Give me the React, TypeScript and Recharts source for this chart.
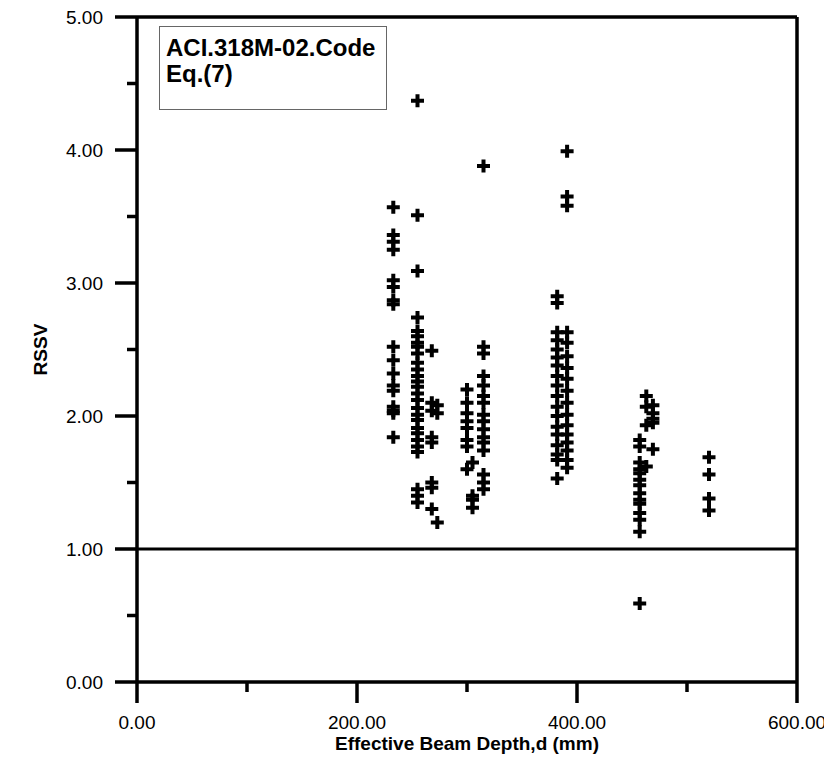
import React from 'react';
import { ScatterChart, Scatter, XAxis, YAxis, ReferenceLine } from 'recharts';

// effective depth d (mm) of each group of specimens, and the RSSV read for each
const rssvAt233 = [3.57, 3.36, 3.31, 3.25, 3.02, 2.97, 2.87, 2.84, 2.52, 2.42, 2.32, 2.23, 2.19, 2.07, 2.04, 2.02, 1.84];
const rssvAt255 = [4.37, 3.51, 3.09, 2.74, 2.64, 2.60, 2.55, 2.52, 2.47, 2.40, 2.35, 2.30, 2.26, 2.22, 2.17, 2.12, 2.06, 2.01, 1.97, 1.91, 1.87, 1.82, 1.77, 1.73, 1.45, 1.40, 1.35];
const rssvAt268 = [2.49, 2.10, 2.04, 1.84, 1.80, 1.50, 1.46, 1.30];
const rssvAt273 = [2.08, 2.02, 1.20];
const rssvAt300 = [2.20, 2.10, 2.02, 1.96, 1.91, 1.82, 1.77, 1.60];
const rssvAt305 = [1.65, 1.40, 1.37, 1.31];
const rssvAt315 = [3.88, 2.52, 2.47, 2.30, 2.23, 2.15, 2.10, 2.01, 1.96, 1.90, 1.84, 1.80, 1.74, 1.56, 1.50, 1.45];
const rssvAt382 = [2.90, 2.85, 2.63, 2.57, 2.50, 2.44, 2.38, 2.30, 2.23, 2.15, 2.07, 2.00, 1.92, 1.86, 1.78, 1.71, 1.67, 1.53];
const rssvAt391 = [3.99, 3.65, 3.58, 2.63, 2.55, 2.45, 2.36, 2.28, 2.19, 2.10, 2.01, 1.93, 1.86, 1.80, 1.74, 1.67, 1.61];
const rssvAt457 = [1.82, 1.77, 1.65, 1.60, 1.57, 1.52, 1.48, 1.42, 1.37, 1.34, 1.27, 1.22, 1.13, 0.59];
const rssvAt463 = [2.15, 2.07, 1.93, 1.62];
const rssvAt469 = [2.08, 2.02, 1.98, 1.95, 1.75];
const rssvAt520 = [1.69, 1.56, 1.38, 1.29];

const groups: [number, number[]][] = [
  [233, rssvAt233],
  [255, rssvAt255],
  [268, rssvAt268],
  [273, rssvAt273],
  [300, rssvAt300],
  [305, rssvAt305],
  [315, rssvAt315],
  [382, rssvAt382],
  [391, rssvAt391],
  [457, rssvAt457],
  [463, rssvAt463],
  [469, rssvAt469],
  [520, rssvAt520],
];

const xTicks = [0, 100, 200, 300, 400, 500, 600];
const yTicks = [0, 0.5, 1, 1.5, 2, 2.5, 3, 3.5, 4, 4.5, 5];

const points = groups.flatMap(([d, vals]) => vals.map((v) => ({ d, v })));

const FONT = '"Liberation Sans", Arial, sans-serif';
const X_TICK = 21;
const X_MARGIN = 13;
const Y_TICK = 22;
const Y_MARGIN = 12;
const MINOR = 10;
const LW = 3.5;

const XTick = (props: any) => {
  const { x, y, payload } = props;
  const major = payload.value % 200 === 0;
  const axisY = y - X_TICK - X_MARGIN;
  return (
    <g>
      <line x1={x} x2={x} y1={axisY} y2={axisY + (major ? X_TICK : MINOR)} stroke="#000" strokeWidth={LW} />
      {major && (
        <text x={x} y={y} dy="0.71em" textAnchor="middle" fontSize={19} fontFamily={FONT} fill="#000">
          {payload.value.toFixed(2)}
        </text>
      )}
    </g>
  );
};

const YTick = (props: any) => {
  const { x, y, payload } = props;
  const major = Number.isInteger(payload.value);
  const axisX = x + Y_TICK + Y_MARGIN;
  return (
    <g>
      <line x1={axisX} x2={axisX - (major ? Y_TICK : MINOR)} y1={y} y2={y} stroke="#000" strokeWidth={LW} />
      {major && (
        <text x={x} y={y} dy="0.355em" textAnchor="end" fontSize={19} fontFamily={FONT} fill="#000">
          {payload.value.toFixed(2)}
        </text>
      )}
    </g>
  );
};

const YTitle = (props: any) => {
  const { viewBox } = props;
  const cx = viewBox.x + 32;
  const cy = viewBox.y + viewBox.height / 2;
  return (
    <text x={cx} y={cy} transform={`rotate(-90, ${cx}, ${cy})`} dy="0.355em" textAnchor="middle"
      fontSize={19} fontWeight="bold" fontFamily={FONT} fill="#000">
      RSSV
    </text>
  );
};

const Plus = (props: any) => {
  const { cx, cy } = props;
  const r = 6.5;
  return <path d={`M${cx - r},${cy}H${cx + r}M${cx},${cy - r}V${cy + r}`} stroke="#000" strokeWidth={4} fill="none" />;
};

export default function App() {
  return (
    <div style={{ position: 'relative', width: 824, height: 752, fontFamily: FONT }}>
      <ScatterChart width={824} height={752} margin={{ top: 9, right: 35, bottom: 10, left: 0 }}>
        <XAxis
          type="number"
          dataKey="d"
          domain={[0, 600]}
          ticks={xTicks}
          interval={0}
          height={68}
          tickSize={X_TICK}
          tickMargin={X_MARGIN}
          tickLine={false}
          tick={<XTick />}
          axisLine={{ stroke: '#000', strokeWidth: LW }}
          label={{ value: 'Effective Beam Depth,d (mm)', position: 'insideBottom', offset: 0, fontSize: 19, fontWeight: 'bold', fill: '#000', fontFamily: FONT }}
        />
        <YAxis
          type="number"
          dataKey="v"
          domain={[0, 5]}
          ticks={yTicks}
          interval={0}
          width={129}
          tickSize={Y_TICK}
          tickMargin={Y_MARGIN}
          tickLine={false}
          tick={<YTick />}
          axisLine={{ stroke: '#000', strokeWidth: LW }}
          label={{ content: <YTitle /> }}
        />
        <ReferenceLine y={5} stroke="#000" strokeWidth={LW} />
        <ReferenceLine x={600} stroke="#000" strokeWidth={LW} />
        <ReferenceLine y={1} stroke="#000" strokeWidth={3} />
        <Scatter data={points} shape={<Plus />} isAnimationActive={false} />
      </ScatterChart>
      <div
        style={{
          position: 'absolute',
          left: 151,
          top: 18,
          width: 220,
          height: 74,
          border: '1px solid #666',
          boxSizing: 'content-box',
          paddingLeft: 6,
          paddingTop: 8,
          fontSize: 24,
          lineHeight: '26px',
          fontWeight: 'bold',
          color: '#000',
        }}
      >
        ACI.318M-02.Code
        <br />
        Eq.(7)
      </div>
    </div>
  );
}
